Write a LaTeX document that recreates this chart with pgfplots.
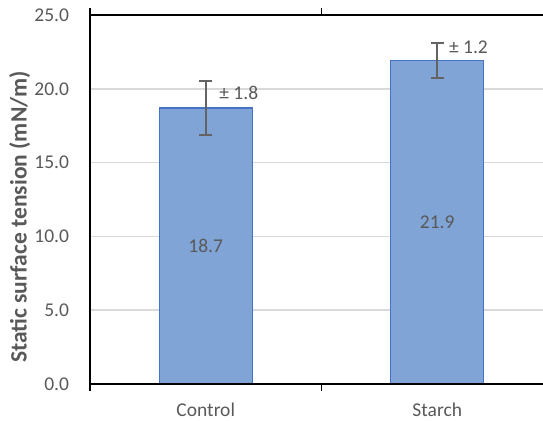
\documentclass[border=0pt]{standalone}
\usepackage{fontspec}
\setmainfont{Carlito}
\usepackage{pgfplots}
\pgfplotsset{compat=1.18}
\definecolor{txt}{HTML}{595959}
\definecolor{barfill}{RGB}{127,164,213}
\definecolor{barline}{RGB}{68,114,196}
\definecolor{gridc}{HTML}{D9D9D9}
\definecolor{errc}{HTML}{636363}
\pgfplotsset{
  layers/mylayers/.define layer set={axis background,axis grid,main,axis ticks,axis lines,axis tick labels,axis descriptions,axis foreground}{/pgfplots/layers/standard},
}
\begin{document}
\fontsize{19.5}{23}\selectfont
\begin{tikzpicture}
\begin{axis}[
  name=ax,
  set layers=mylayers,
  scale only axis, width=463pt, height=369pt,
  xmin=-0.5, xmax=1.5, ymin=0, ymax=25,
  axis line style={black, line width=1.5pt},
  ymajorgrids, grid style={gridc, line width=1.5pt},
  ytick={0,5,10,15,20,25},
  ytick style={draw=none},
  yticklabel style={text=txt, xshift=-10pt, /pgf/number format/.cd, fixed, fixed zerofill, precision=1},
  /pgf/number format/assume math mode=true,
  xtick={0,1}, xticklabels={Control,Starch},
  minor xtick={-0.5,0.5,1.5},
  tick align=outside,
  major x tick style={draw=none},
  minor x tick style={black, line width=1.5pt},
  minor tick length=7pt,
  xticklabel style={text=txt, yshift=-8pt},
  ylabel={\fontsize{23.5}{27}\selectfont\bfseries Static surface tension (mN/m)},
  ylabel style={text=txt, at={(ticklabel cs:0.453)}},
  ylabel shift=-9pt,
  clip=false,
]
\addplot[ybar, bar width=93pt, fill=barfill, draw=barline, line width=1.2pt,
  error bars/.cd, y dir=both, y explicit,
  error bar style={errc, line width=2pt},
  error mark options={rotate=90, mark size=6.5pt, line width=2pt, errc}]
  coordinates {(0,18.7) +- (0,1.8) (1,21.9) +- (0,1.2)};
\node[text=txt] at (axis cs:0,9.35) {18.7};
\node[text=txt] at (axis cs:1,10.95) {21.9};
\node[text=txt, anchor=west, inner sep=0pt] at (axis cs:0.058,19.7) {± 1.8};
\node[text=txt, anchor=west, inner sep=0pt] at (axis cs:1.05,22.8) {± 1.2};
\end{axis}
\pgfresetboundingbox
\path ([shift={(-90pt,-36pt)}]ax.south west) rectangle ([shift={(-10pt,15pt)}]ax.north east);
\end{tikzpicture}
\end{document}
